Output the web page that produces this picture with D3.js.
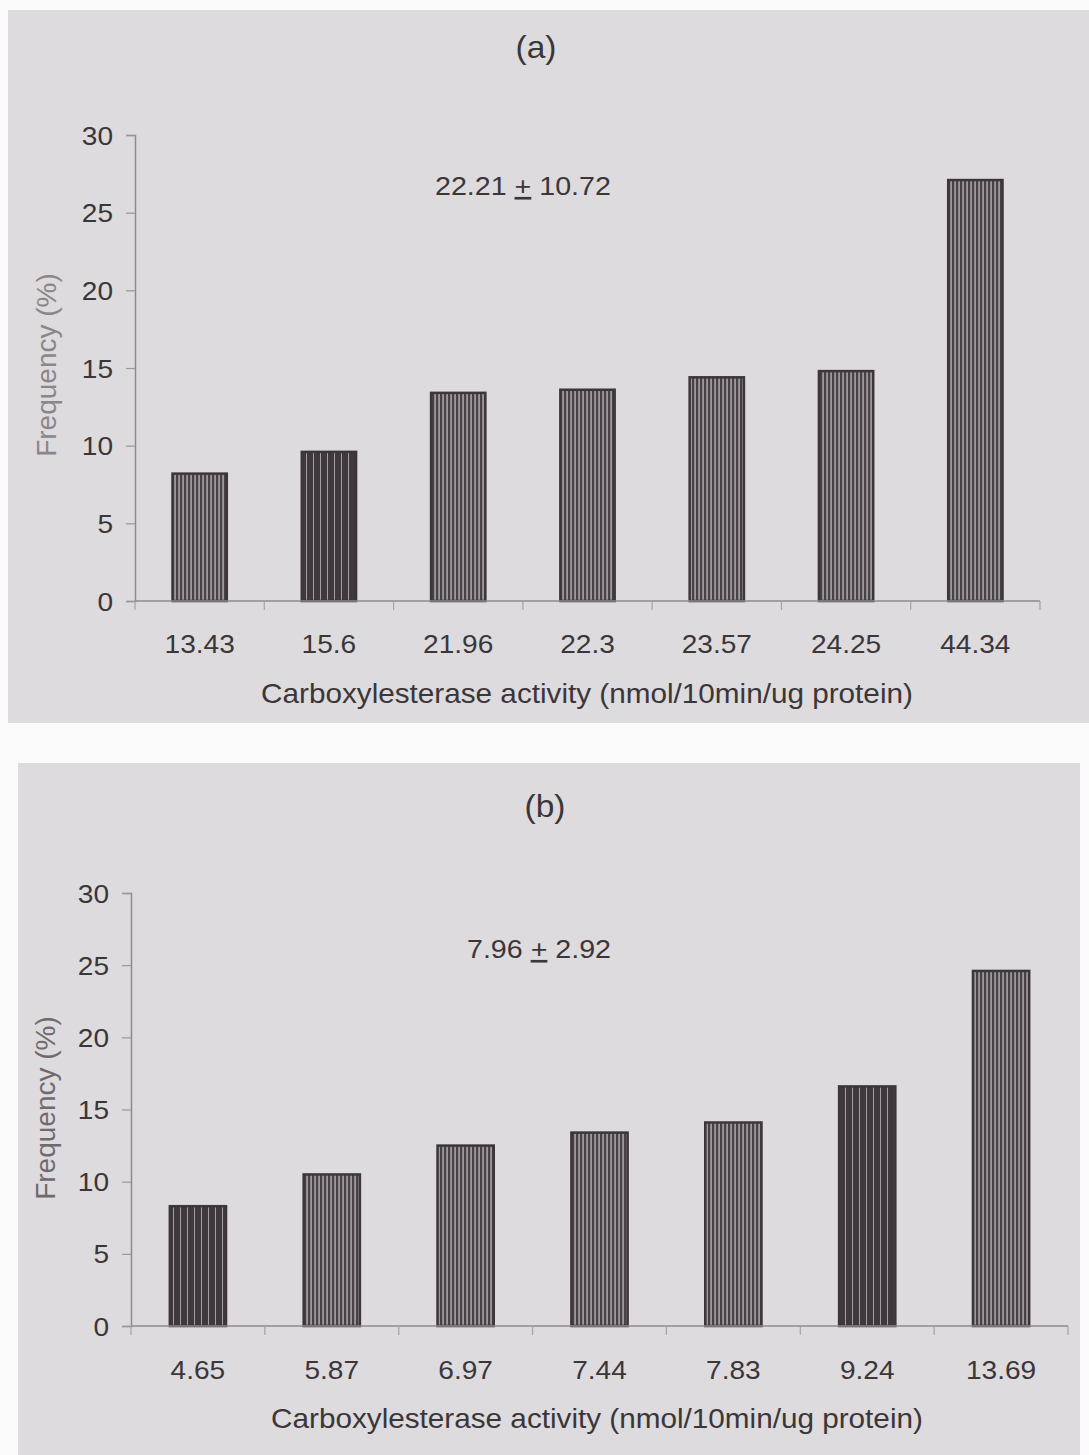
<!DOCTYPE html>
<html>
<head>
<meta charset="utf-8">
<script src="https://cdn.jsdelivr.net/npm/d3@7"></script>
<style>
  html, body { margin: 0; padding: 0; background: #fbfbfb; }
  svg { display: block; }
  text { font-family: "Liberation Sans", Arial, sans-serif; fill: #3b3639; }
</style>
</head>
<body>
<div id="chart"></div>
<script>
// data
const activityA = ['13.43', '15.6', '21.96', '22.3', '23.57', '24.25', '44.34'];
const frequencyA = [8.2, 9.6, 13.4, 13.6, 14.4, 14.8, 27.1];
const activityB = ['4.65', '5.87', '6.97', '7.44', '7.83', '9.24', '13.69'];
const frequencyB = [8.3, 10.5, 12.5, 13.4, 14.1, 16.6, 24.6];
const yTicks = [0, 5, 10, 15, 20, 25, 30];
const panelLabels = ['(a)', '(b)'];
const meanA = ['22.21', '10.72'];
const meanB = ['7.96', '2.92'];
const xTitle = 'Carboxylesterase activity (nmol/10min/ug protein)';
const yTitle = 'Frequency (%)';

const W = 1089;
const H = 1455;
const STRETCH = 1.08;

const svg = d3.select('#chart').append('svg')
  .attr('width', W)
  .attr('height', H);

// vertical hatching like the scanned bars
const defs = svg.append('defs');
const fine = defs.append('pattern')
  .attr('id', 'fine')
  .attr('patternUnits', 'userSpaceOnUse')
  .attr('width', 4).attr('height', 10);
fine.append('rect').attr('width', 4).attr('height', 10).attr('fill', '#9d989b');
fine.append('rect').attr('width', 2.2).attr('height', 10).attr('fill', '#484246');

const dark = defs.append('pattern')
  .attr('id', 'dark')
  .attr('patternUnits', 'userSpaceOnUse')
  .attr('width', 7).attr('height', 10);
dark.append('rect').attr('width', 7).attr('height', 10).attr('fill', '#3f393d');
dark.append('rect').attr('x', 5).attr('width', 1).attr('height', 10).attr('fill', '#a29ea1');

function stretchedText(g, x, y, str, size, anchor) {
  return g.append('text')
    .attr('transform', `translate(${x},${y}) scale(${STRETCH},1)`)
    .attr('text-anchor', anchor || 'middle')
    .attr('font-size', size)
    .text(str);
}

function drawPanel(p) {
  const g = svg.append('g');

  g.append('rect')
    .attr('x', p.box[0]).attr('y', p.box[1])
    .attr('width', p.box[2]).attr('height', p.box[3])
    .attr('fill', '#dddbdd');

  const x = d3.scaleBand()
    .domain(p.categories)
    .range([p.left, p.right])
    .paddingInner(0.58)
    .paddingOuter(0.29);

  const y = d3.scaleLinear()
    .domain([0, 30])
    .range([p.bottom, p.top]);

  // y axis
  const yAxis = g.append('g')
    .attr('transform', `translate(${p.left},0)`)
    .call(d3.axisLeft(y).tickValues(yTicks).tickSize(9).tickPadding(14));
  yAxis.select('.domain').attr('stroke', '#8e8a8d').attr('stroke-width', 1.5);
  yAxis.selectAll('.tick line').attr('stroke', '#9a9699').attr('stroke-width', 1.2);
  yAxis.selectAll('.tick text')
    .attr('x', null).attr('dy', null)
    .attr('transform', `translate(-22,9) scale(${STRETCH},1)`)
    .attr('font-size', 26)
    .attr('font-family', '"Liberation Sans", Arial, sans-serif')
    .attr('fill', '#3b3639');

  // bars
  g.append('g').selectAll('rect')
    .data(p.values)
    .join('rect')
    .attr('x', (d, i)=> x(p.categories[i]))
    .attr('y', d=> y(d))
    .attr('width', x.bandwidth())
    .attr('height', d=> y(0) - y(d))
    .attr('fill', (d, i)=> p.darkBars.includes(i) ? 'url(#dark)' : 'url(#fine)')
    .attr('stroke', '#3c363a')
    .attr('stroke-width', 2.5);

  // x axis line with ticks between categories
  g.append('line')
    .attr('x1', p.left).attr('x2', p.right)
    .attr('y1', y(0)).attr('y2', y(0))
    .attr('stroke', '#8e8a8d').attr('stroke-width', 1.5);
  const bounds = d3.range(p.categories.length + 1).map(i=> p.left + i * x.step());
  g.append('g').selectAll('line')
    .data(bounds)
    .join('line')
    .attr('x1', d=> d).attr('x2', d=> d)
    .attr('y1', y(0)).attr('y2', y(0) + 9)
    .attr('stroke', '#a6a2a5').attr('stroke-width', 1.2);

  p.categories.forEach(c=> {
    stretchedText(g, x(c) + x.bandwidth() / 2, y(0) + p.tickGap, c, 26);
  });

  // titles
  stretchedText(g, p.titleX, y(0) + p.titleGap, xTitle, 27.5);
  g.append('text')
    .attr('transform', `translate(${p.yTitleX},${p.yTitleY}) rotate(-90)`)
    .attr('text-anchor', 'middle')
    .attr('font-size', 28)
    .style('fill', p.yTitleColor)
    .text(yTitle);

  stretchedText(g, p.labelX, p.labelY, p.label, 31);

  const note = g.append('text')
    .attr('transform', `translate(${p.noteX},${p.noteY}) scale(${STRETCH},1)`)
    .attr('font-size', 26.5);
  note.append('tspan').text(`${p.mean[0]} `);
  note.append('tspan').style('text-decoration', 'underline').text('+');
  note.append('tspan').text(` ${p.mean[1]}`);
}

drawPanel({
  box: [8, 10, 1081, 713],
  categories: activityA,
  values: frequencyA,
  darkBars: [1],
  left: 135, right: 1040, top: 135, bottom: 601,
  tickGap: 52, titleGap: 102, titleX: 587,
  yTitleX: 56, yTitleY: 365, yTitleColor: '#8a8689',
  label: panelLabels[0], labelX: 536, labelY: 58,
  mean: meanA, noteX: 435, noteY: 195
});

drawPanel({
  box: [18, 763, 1062, 692],
  categories: activityB,
  values: frequencyB,
  darkBars: [0, 5],
  left: 131, right: 1068, top: 893, bottom: 1326,
  tickGap: 53, titleGap: 102, titleX: 597,
  yTitleX: 55, yTitleY: 1108, yTitleColor: '#6f6a6e',
  label: panelLabels[1], labelX: 545, labelY: 817,
  mean: meanB, noteX: 467, noteY: 958
});
</script>
</body>
</html>
